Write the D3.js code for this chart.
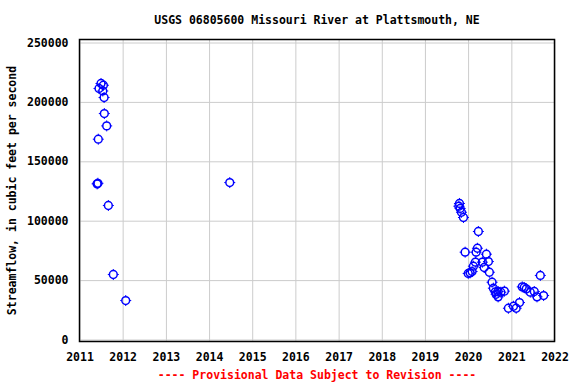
<!DOCTYPE html>
<html>
<head>
<meta charset="utf-8">
<script src="https://cdn.jsdelivr.net/npm/d3@7"></script>
<style>
  html, body { margin: 0; padding: 0; background: #fff; }
  svg text { font-family: "DejaVu Sans Mono", monospace; font-weight: bold; font-size: 11.5px; }
</style>
</head>
<body>
<svg id="chart" width="576" height="384"></svg>
<script>
const title = "USGS 06805600 Missouri River at Plattsmouth, NE";
const yLabel = "Streamflow, in cubic feet per second";
const caption = "---- Provisional Data Subject to Revision ----";

const yTicks = [0, 50000, 100000, 150000, 200000, 250000];
const xTickYears = [2011, 2012, 2013, 2014, 2015, 2016, 2017, 2018, 2019, 2020, 2021, 2022];

const dates = [
  "2011-05-30", "2011-06-06", "2011-06-09", "2011-06-15", "2011-07-02",
  "2011-07-17", "2011-07-22", "2011-07-28", "2011-07-30", "2011-08-19",
  "2011-09-02", "2011-10-14", "2012-01-27", "2014-06-25",
  "2019-10-15", "2019-10-20", "2019-10-26", "2019-11-06", "2019-11-23",
  "2019-12-07", "2020-01-02", "2020-01-18", "2020-02-04", "2020-02-15",
  "2020-03-03", "2020-03-09", "2020-03-20", "2020-03-28", "2020-05-01",
  "2020-05-16", "2020-06-04", "2020-06-21", "2020-06-29", "2020-07-22",
  "2020-08-02", "2020-08-19", "2020-08-25", "2020-09-11", "2020-09-11",
  "2020-10-04", "2020-11-03", "2020-12-07", "2021-01-19", "2021-02-11",
  "2021-03-11", "2021-04-03", "2021-04-20", "2021-05-07", "2021-06-10",
  "2021-07-14", "2021-08-06", "2021-09-03", "2021-10-01"
];
const flows = [
  131000, 131500, 168600, 211300, 215500,
  209200, 214000, 203700, 190200, 179800,
  112800, 54700, 32800, 132100,
  112200, 114500, 110300, 107100, 102700,
  73500, 55600, 56100, 57200, 61700,
  65100, 73500, 76800, 90900, 65100,
  60600, 71800, 65600, 56600, 48200,
  43200, 40100, 38100, 35900, 40400,
  39800, 40700, 26300, 28000, 26300,
  31100, 44300, 43800, 42600, 39800,
  40400, 35900, 53900, 37000
];

const parse = d3.timeParse("%Y-%m-%d");
const points = dates.map((d, i) => ({ date: parse(d), value: flows[i] }));

const pL = 79.5, pR = 554.5, pT = 39.5, pB = 341.5;
const svg = d3.select("#chart");

const x = d3.scaleTime()
  .domain([new Date(2011, 0, 1), new Date(2022, 0, 1)])
  .range([pL, pR]);
const y = d3.scaleLinear()
  .domain([0, 250000])
  .range([339.5, 42.5]);

const yearDates = xTickYears.map(yv => new Date(yv, 0, 1));

// gridlines
const grid = svg.append("g");
grid.append("g")
  .attr("transform", `translate(0,${pB})`)
  .call(d3.axisBottom(x).tickValues(yearDates).tickSize(-(pB - pT)).tickFormat(""))
  .call(g => g.select(".domain").remove())
  .call(g => g.selectAll("line").attr("stroke", "#cccccc").attr("stroke-width", 1));
grid.append("g")
  .attr("transform", `translate(${pL},0)`)
  .call(d3.axisLeft(y).tickValues(yTicks).tickSize(-(pR - pL)).tickFormat(""))
  .call(g => g.select(".domain").remove())
  .call(g => g.selectAll("line").attr("stroke", "#cccccc").attr("stroke-width", 1));

// frame
svg.append("rect")
  .attr("x", pL).attr("y", pT)
  .attr("width", pR - pL).attr("height", pB - pT)
  .attr("fill", "none").attr("stroke", "#000").attr("stroke-width", 1.5);

// y tick labels
svg.append("g")
  .attr("transform", `translate(${pL - 8},0)`)
  .call(d3.axisLeft(y).tickValues(yTicks).tickSize(0).tickFormat(d3.format("d")))
  .call(g => g.select(".domain").remove())
  .call(g => g.selectAll("text")
    .attr("fill", "#000")
    .style("font-family", "DejaVu Sans Mono, monospace")
    .style("font-weight", "bold")
    .style("font-size", "11.5px"));

// x tick labels
svg.append("g")
  .attr("transform", `translate(0,${pB + 8})`)
  .call(d3.axisBottom(x).tickValues(yearDates).tickSize(0).tickFormat(d3.timeFormat("%Y")))
  .call(g => g.select(".domain").remove())
  .call(g => g.selectAll("text")
    .attr("fill", "#000")
    .style("font-family", "DejaVu Sans Mono, monospace")
    .style("font-weight", "bold")
    .style("font-size", "11.5px"));

// points
const pts = svg.append("g");
const mk = pts.selectAll("g.pt").data(points).enter().append("g")
  .attr("class", "pt")
  .attr("transform", d => `translate(${x(d.date)},${y(d.value)})`);
mk.append("circle")
  .attr("r", 3.9)
  .attr("fill", "none")
  .attr("stroke", "#0000ff")
  .attr("stroke-width", 1.5);
mk.append("path")
  .attr("d", "M0,-5.5V-3.9M0,3.9V5.5M-5.5,0H-3.9M3.9,0H5.5")
  .attr("stroke", "#0000ff")
  .attr("stroke-width", 1);

// title
svg.append("text")
  .attr("x", (pL + pR) / 2).attr("y", 24)
  .attr("text-anchor", "middle")
  .attr("fill", "#000")
  .text(title);

// y label
svg.append("text")
  .attr("transform", `translate(16,${(pT + pB) / 2}) rotate(-90)`)
  .attr("text-anchor", "middle")
  .attr("fill", "#000")
  .text(yLabel);

// caption
svg.append("text")
  .attr("x", (pL + pR) / 2).attr("y", 379)
  .attr("text-anchor", "middle")
  .attr("fill", "#ff0000")
  .text(caption);
</script>
</body>
</html>
